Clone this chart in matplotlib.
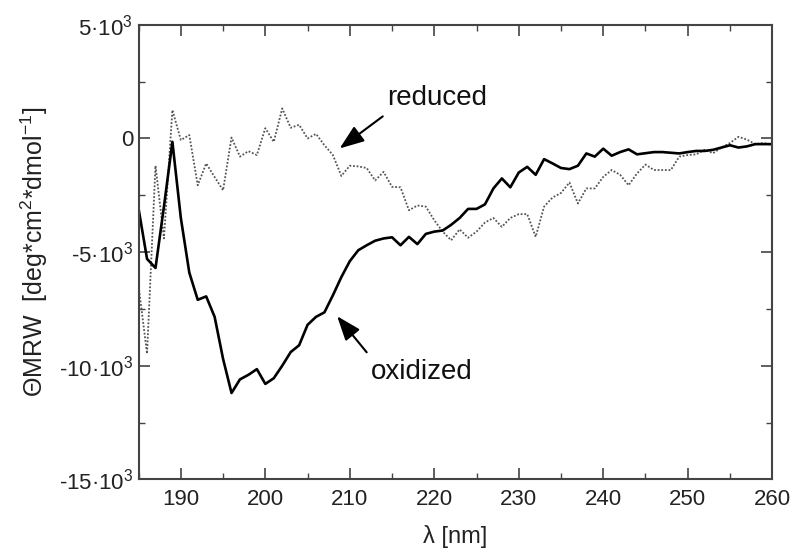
import matplotlib
matplotlib.use("Agg")
import matplotlib.pyplot as plt
from matplotlib.ticker import MultipleLocator, FixedLocator, FixedFormatter

plt.rcParams['font.family'] = ['Liberation Sans', 'DejaVu Sans']
plt.rcParams['mathtext.fontset'] = 'custom'
plt.rcParams['mathtext.rm'] = 'Liberation Sans'
plt.rcParams['mathtext.it'] = 'Liberation Sans:italic'
plt.rcParams['mathtext.default'] = 'regular'

wavelength = list(range(185, 261))

oxidized = [-3.1, -5.3, -5.7, -3.0, -0.15, -3.5, -5.9, -7.1, -6.95, -7.85,
            -9.7, -11.2, -10.6, -10.4, -10.15, -10.8, -10.55, -10.0, -9.4, -9.1,
            -8.2, -7.85, -7.65, -6.9, -6.1, -5.4, -4.92, -4.7, -4.5, -4.4,
            -4.35, -4.7, -4.33, -4.65, -4.2, -4.1, -4.05, -3.8, -3.5, -3.1,
            -3.1, -2.9, -2.2, -1.76, -2.15, -1.5, -1.25, -1.6, -0.91, -1.1,
            -1.3, -1.35, -1.2, -0.66, -0.8, -0.45, -0.76, -0.6, -0.48, -0.7,
            -0.65, -0.6, -0.6, -0.63, -0.66, -0.6, -0.55, -0.55, -0.5, -0.4,
            -0.3, -0.4, -0.35, -0.25, -0.25, -0.25]

reduced = [-6.5, -9.47, -1.2, -4.4, 1.25, -0.07, 0.15, -2.06, -1.1, -1.7,
           -2.28, 0.04, -0.8, -0.56, -0.73, 0.45, -0.15, 1.32, 0.47, 0.6,
           0.0, 0.2, -0.3, -0.73, -1.65, -1.2, -1.23, -1.3, -1.85, -1.47,
           -2.13, -2.15, -3.16, -2.95, -3.0, -3.6, -4.1, -4.48, -4.0, -4.37,
           -4.1, -3.7, -3.5, -3.89, -3.5, -3.33, -3.33, -4.33, -3.0, -2.6,
           -2.4, -1.94, -2.86, -2.2, -2.2, -1.69, -1.39, -1.6, -2.06, -1.54,
           -1.15, -1.39, -1.39, -1.39, -0.8, -0.73, -0.7, -0.5, -0.65, -0.4,
           -0.2, 0.07, -0.05, -0.25, -0.2, -0.3]

oxidized_vals = [v * 1000 for v in oxidized]
reduced_vals = [v * 1000 for v in reduced]

x_ticks = [190, 200, 210, 220, 230, 240, 250, 260]
y_ticks = [5000, 0, -5000, -10000, -15000]
y_tick_labels = ['5·10$^{3}$', '0', '-5·10$^{3}$', '-10·10$^{3}$', '-15·10$^{3}$']

fig = plt.figure(figsize=(7.92, 5.51), dpi=100)
ax = fig.add_axes([0.175, 0.130, 0.800, 0.825])

ax.plot(wavelength, reduced_vals, color='#555555', lw=1.3, linestyle=(0, (1, 1)))
ax.plot(wavelength, oxidized_vals, color='black', lw=1.9)

ax.set_xlim(185, 260)
ax.set_ylim(-15000, 5000)
ax.xaxis.set_major_locator(FixedLocator(x_ticks))
ax.xaxis.set_minor_locator(MultipleLocator(5))
ax.yaxis.set_major_locator(FixedLocator(y_ticks))
ax.yaxis.set_major_formatter(FixedFormatter(y_tick_labels))
ax.yaxis.set_minor_locator(MultipleLocator(2500))

ax.tick_params(which='both', direction='in', top=True, right=True,
               color='#444444', labelcolor='#222222', labelsize=16)
ax.tick_params(axis='x', which='major', pad=7)
ax.tick_params(axis='y', which='major', pad=4)
ax.tick_params(which='major', length=8, width=1.2)
ax.tick_params(which='minor', length=4, width=1.0)
for s in ax.spines.values():
    s.set_color('#444444')
    s.set_linewidth(1.5)

ax.set_xlabel('λ [nm]', fontsize=17, labelpad=11, color='#222222')
ax.set_ylabel(r'ΘMRW  [deg*cm$^{2}$*dmol$^{-1}$]', fontsize=18, labelpad=6,
              color='#222222')

arrow = dict(arrowstyle='-|>,head_length=0.75,head_width=0.28', color='black',
             lw=1.5, shrinkA=0, shrinkB=0, mutation_scale=20)
ax.annotate('', xy=(208.8, -440), xytext=(213.9, 970), arrowprops=arrow)
ax.text(220.3, 1800, 'reduced', fontsize=20, ha='center', va='center',
        color='#111111')
ax.annotate('', xy=(208.5, -7820), xytext=(212.0, -9410), arrowprops=arrow)
ax.text(218.5, -10290, 'oxidized', fontsize=20, ha='center', va='center',
        color='#111111')

fig.savefig('out.png', dpi=100)
